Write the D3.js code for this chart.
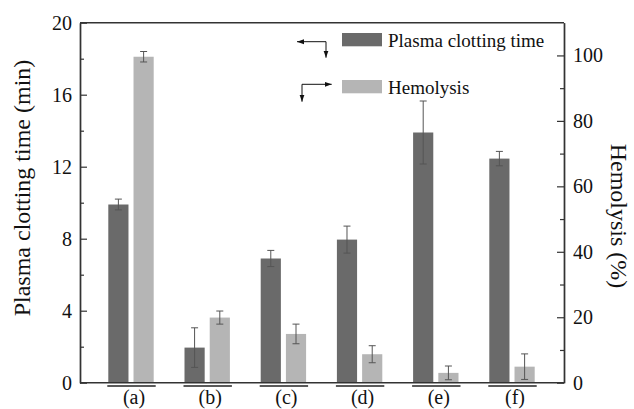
<!DOCTYPE html>
<html>
<head>
<meta charset="utf-8">
<script src="https://cdn.jsdelivr.net/npm/d3@7"></script>
<style>
  body { margin: 0; background: #fff; }
</style>
</head>
<body>
<div id="chart"></div>
<script>
// groups and values
const categories = ["(a)", "(b)", "(c)", "(d)", "(e)", "(f)"];
const clottingTime = [9.9, 1.95, 6.9, 7.95, 13.9, 12.45];   // min, left axis
const clottingErr = [0.3, 1.1, 0.45, 0.75, 1.75, 0.4];
const hemolysis = [99.6, 19.9, 14.9, 8.7, 3.0, 4.9];        // %, right axis
const hemolysisErr = [1.6, 2.0, 3.0, 2.6, 2.1, 3.9];
const leftTicks = [0, 4, 8, 12, 16, 20];
const leftMinor = [2, 6, 10, 14, 18];
const rightTicks = [0, 20, 40, 60, 80, 100];
const rightMinor = [10, 30, 50, 70, 90];
const seriesNames = ["Plasma clotting time", "Hemolysis"];

const FONT = "'Liberation Serif'";
const colors = { clot: "#6a6a6a", hemo: "#b5b5b5", axis: "#333", err: "#555", text: "#111" };

const width = 634, height = 409;
const margin = { top: 22.7, right: 70, bottom: 26.3, left: 80 };
const innerW = width - margin.left - margin.right;
const innerH = height - margin.top - margin.bottom;

const svg = d3.select("#chart").append("svg")
  .attr("width", width)
  .attr("height", height)
  .style("font-family", FONT);

const chart = svg.append("g")
  .attr("transform", `translate(${margin.left},${margin.top})`);

// scales
const yLeft = d3.scaleLinear().domain([0, 20]).range([innerH, 0]);
const yRight = d3.scaleLinear().domain([0, 110]).range([innerH, 0]);

const x0 = d3.scaleBand().domain(categories).range([12.9, 12.9 + 6 * 76.2]);
const x1 = d3.scaleBand().domain(["clot", "hemo"])
  .range([x0.bandwidth() / 2 - 22.7, x0.bandwidth() / 2 + 22.7])
  .paddingInner(0.2);

const rows = categories.map((c, i) => ({
  cat: c,
  bars: [
    { key: "clot", v: clottingTime[i], e: clottingErr[i], y: yLeft },
    { key: "hemo", v: hemolysis[i], e: hemolysisErr[i], y: yRight },
  ],
}));

// bars
const groups = chart.selectAll(".grp")
  .data(rows)
  .join("g")
  .attr("class", "grp")
  .attr("transform", (d) => `translate(${x0(d.cat)},0)`);

groups.selectAll("rect")
  .data((d) => d.bars)
  .join("rect")
  .attr("x", (d) => x1(d.key))
  .attr("width", x1.bandwidth())
  .attr("y", (d) => d.y(d.v))
  .attr("height", (d) => innerH - d.y(d.v))
  .attr("fill", (d) => colors[d.key]);

// error bars
const err = groups.selectAll(".err")
  .data((d) => d.bars)
  .join("g")
  .attr("class", "err")
  .attr("stroke", colors.err)
  .attr("stroke-width", 1);

err.append("line")
  .attr("x1", (d) => x1(d.key) + x1.bandwidth() / 2)
  .attr("x2", (d) => x1(d.key) + x1.bandwidth() / 2)
  .attr("y1", (d) => d.y(d.v - d.e))
  .attr("y2", (d) => d.y(d.v + d.e));

[1, -1].forEach((s) => {
  err.append("line")
    .attr("x1", (d) => x1(d.key) + x1.bandwidth() / 2 - 3.5)
    .attr("x2", (d) => x1(d.key) + x1.bandwidth() / 2 + 3.5)
    .attr("y1", (d) => d.y(d.v + s * d.e))
    .attr("y2", (d) => d.y(d.v + s * d.e));
});

// group underline + label
groups.append("line")
  .attr("x1", x1("clot") - 1)
  .attr("x2", x1("hemo") + x1.bandwidth() + 2)
  .attr("y1", innerH + 3.3)
  .attr("y2", innerH + 3.3)
  .attr("stroke", "#222")
  .attr("stroke-width", 1.5);

groups.append("text")
  .attr("x", x0.bandwidth() / 2 + 3)
  .attr("y", innerH + 21.3)
  .attr("text-anchor", "middle")
  .style("font-family", FONT)
  .style("font-size", "20px")
  .attr("fill", colors.text)
  .text((d) => d.cat);

// axes
const styleAxis = (g) => {
  g.attr("font-family", null).attr("font-size", null);
  g.selectAll("path.domain").attr("stroke", colors.axis).attr("stroke-width", 1.4);
  g.selectAll(".tick line").attr("stroke", colors.axis).attr("stroke-width", 1.2);
  g.selectAll(".tick text")
    .style("font-size", "20px")
    .style("font-family", FONT)
    .attr("fill", colors.text);
};

chart.append("g")
  .call(d3.axisLeft(yLeft).tickValues(leftTicks).tickSizeInner(-7).tickSizeOuter(0).tickPadding(8))
  .call(styleAxis);
chart.append("g")
  .call(d3.axisLeft(yLeft).tickValues(leftMinor).tickSizeInner(-4).tickSizeOuter(0).tickFormat(""))
  .call(styleAxis);

chart.append("g")
  .attr("transform", `translate(${innerW},0)`)
  .call(d3.axisRight(yRight).tickValues(rightTicks).tickSizeInner(-7).tickSizeOuter(0).tickPadding(9))
  .call(styleAxis);
chart.append("g")
  .attr("transform", `translate(${innerW},0)`)
  .call(d3.axisRight(yRight).tickValues(rightMinor).tickSizeInner(-4).tickSizeOuter(0).tickFormat(""))
  .call(styleAxis);

// top and bottom frame lines
[0, innerH].forEach((yy) => {
  chart.append("line")
    .attr("x1", 0).attr("x2", innerW)
    .attr("y1", yy).attr("y2", yy)
    .attr("stroke", colors.axis)
    .attr("stroke-width", 1.4);
});

// axis titles
svg.append("text")
  .attr("transform", "translate(30,188) rotate(-90)")
  .attr("text-anchor", "middle")
  .style("font-family", FONT)
  .style("font-size", "24px")
  .attr("fill", colors.text)
  .text("Plasma clotting time (min)");

svg.append("text")
  .attr("transform", "translate(611,216) rotate(90)")
  .attr("text-anchor", "middle")
  .style("font-family", FONT)
  .style("font-size", "24px")
  .attr("fill", colors.text)
  .text("Hemolysis (%)");

// legend
svg.append("defs").append("marker")
  .attr("id", "arrow")
  .attr("viewBox", "0 0 10 10")
  .attr("refX", 10).attr("refY", 5)
  .attr("markerWidth", 7).attr("markerHeight", 7)
  .attr("markerUnits", "userSpaceOnUse")
  .attr("orient", "auto-start-reverse")
  .append("path")
  .attr("d", "M0,1.5 L10,5 L0,8.5 Z")
  .attr("fill", "#111");

const legend = svg.append("g").attr("transform", "translate(342,33)");
seriesNames.forEach((name, i) => {
  const row = legend.append("g").attr("transform", `translate(0,${i * 47})`);
  row.append("rect")
    .attr("width", 40).attr("height", 13.3)
    .attr("fill", i === 0 ? colors.clot : colors.hemo);
  row.append("text")
    .attr("x", 46).attr("y", 13.5)
    .style("font-family", FONT)
    .style("font-size", "19px")
    .attr("fill", colors.text)
    .text(name);
});

// arrows pointing to the axis each series uses
legend.append("path")
  .attr("d", "M-45,8.7 H-16 V24.7")
  .attr("fill", "none").attr("stroke", "#111").attr("stroke-width", 1)
  .attr("marker-start", "url(#arrow)")
  .attr("marker-end", "url(#arrow)");

legend.append("path")
  .attr("d", "M-40,68.7 V51.3 H-10.3")
  .attr("fill", "none").attr("stroke", "#111").attr("stroke-width", 1)
  .attr("marker-start", "url(#arrow)")
  .attr("marker-end", "url(#arrow)");
</script>
</body>
</html>
